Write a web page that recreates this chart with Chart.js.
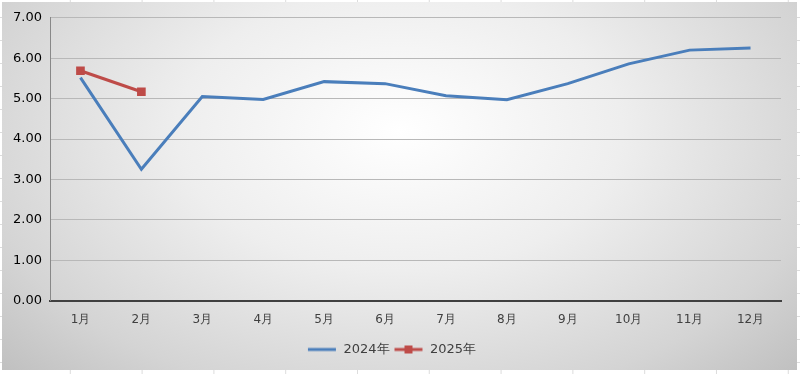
<!DOCTYPE html>
<html>
<head>
<meta charset="utf-8">
<script src="https://cdn.jsdelivr.net/npm/chart.js@4.4.1/dist/chart.umd.min.js"></script>
<style>
  html, body { margin: 0; padding: 0; width: 800px; height: 374px; overflow: hidden; background: #fff; }
  body {
    background-image:
      linear-gradient(to right, #dcdcdc 1px, transparent 1px),
      linear-gradient(to bottom, #dcdcdc 1px, transparent 1px);
    background-size: 71.8px 100%, 100% 23px;
    background-position: -2px 0, 0 -6px;
  }
  #frame {
    position: absolute; left: 2px; top: 2px; width: 795px; height: 368px;
    background: radial-gradient(ellipse 70% 95% at 50% 35%, #ffffff 0%, #eeeeee 40%, #d4d4d4 78%, #bfbfbf 100%);
  }
  canvas { position: absolute; left: 0; top: 0; }
</style>
</head>
<body>
<div id="frame"><canvas id="chart" width="795" height="368"></canvas></div>
<script>
const months = ["1月", "2月", "3月", "4月", "5月", "6月", "7月", "8月", "9月", "10月", "11月", "12月"];
const values2024 = [5.52, 3.25, 5.05, 4.98, 5.42, 5.37, 5.07, 4.97, 5.37, 5.86, 6.2, 6.25];
const values2025 = [5.69, 5.17];
const seriesNames = ["2024年", "2025年"];

const blue = "#4a7ebb";
const red = "#be4b48";

function legendIcon(color, marker) {
  const c = document.createElement("canvas");
  c.width = 30; c.height = 10;
  const g = c.getContext("2d");
  g.strokeStyle = color; g.lineWidth = 3;
  g.beginPath(); g.moveTo(1, 5); g.lineTo(29, 5); g.stroke();
  if (marker) { g.fillStyle = color; g.fillRect(11, 1, 8, 8); }
  return c;
}

const icons = [legendIcon(blue, false), legendIcon(red, true)];

new Chart(document.getElementById("chart"), {
  type: "line",
  data: {
    labels: months,
    datasets: [
      {
        label: seriesNames[0],
        data: values2024,
        borderColor: blue,
        backgroundColor: blue,
        borderWidth: 3,
        pointRadius: 0,
        tension: 0
      },
      {
        label: seriesNames[1],
        data: values2025,
        borderColor: red,
        backgroundColor: red,
        borderWidth: 3,
        pointStyle: "rect",
        pointRadius: 4,
        tension: 0
      }
    ]
  },
  options: {
    responsive: false,
    animation: false,
    layout: { padding: { left: 0, right: 16, top: 9, bottom: 4 } },
    plugins: {
      tooltip: { enabled: false },
      legend: {
        position: "bottom",
        labels: {
          color: "#404040",
          font: { family: "DejaVu Sans", size: 13 },
          usePointStyle: true,
          pointStyleWidth: 30,
          padding: 4,
          generateLabels(chart) {
            return chart.data.datasets.map((ds, i) => ({
              text: ds.label,
              pointStyle: icons[i],
              fontColor: "#404040",
              datasetIndex: i,
              hidden: false,
              lineWidth: 0
            }));
          }
        }
      }
    },
    scales: {
      x: {
        offset: true,
        grid: { display: false, drawTicks: false },
        border: { color: "#404040", width: 2 },
        ticks: { color: "#404040", font: { family: "DejaVu Sans", size: 12 }, padding: 12 }
      },
      y: {
        min: 0,
        max: 7,
        afterFit(scale) { scale.width = 48; },
        grid: { color: "#b8b8b8", drawTicks: false },
        border: { color: "#888888", width: 1 },
        ticks: {
          stepSize: 1,
          color: "#000",
          padding: 8,
          font: { family: "DejaVu Sans", size: 13 },
          callback: (v) => v.toFixed(2)
        }
      }
    }
  }
});
</script>
</body>
</html>
